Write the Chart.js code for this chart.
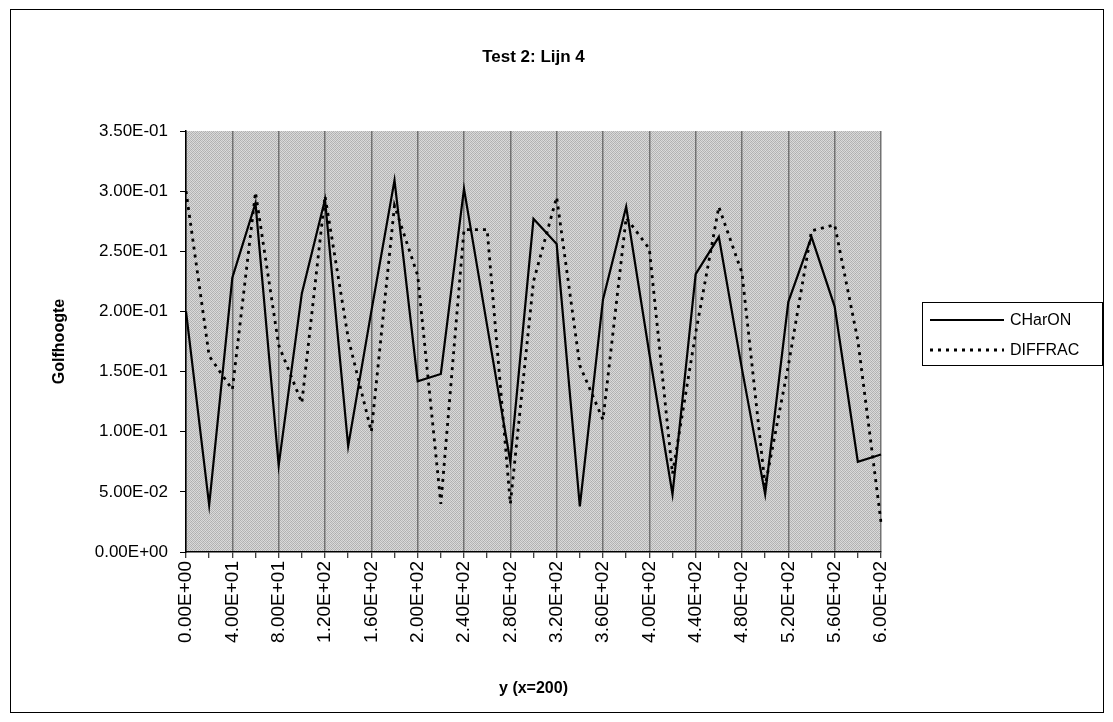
<!DOCTYPE html>
<html>
<head>
<meta charset="utf-8">
<title>Test 2: Lijn 4</title>
<script src="https://cdn.jsdelivr.net/npm/chart.js@4.4.1/dist/chart.umd.min.js"></script>
<style>
  html, body { margin: 0; padding: 0; background: #ffffff; }
  canvas { display: block; }
</style>
</head>
<body>
<canvas id="chart" width="1113" height="722"></canvas>
<script>
// y positions along the line (x = 200)
const yPositions = [0, 20, 40, 60, 80, 100, 120, 140, 160, 180, 200, 220, 240, 260, 280, 300,
                    320, 340, 360, 380, 400, 420, 440, 460, 480, 500, 520, 540, 560, 580, 600];

// wave height, CHarON model
const charonHeights = [0.200, 0.039, 0.228, 0.290, 0.072, 0.215, 0.293, 0.088, 0.200, 0.309,
                       0.142, 0.148, 0.302, 0.188, 0.075, 0.277, 0.256, 0.038, 0.210, 0.287,
                       0.165, 0.048, 0.231, 0.262, 0.152, 0.048, 0.208, 0.262, 0.204, 0.075, 0.081];

// wave height, DIFFRAC model
const diffracHeights = [0.300, 0.163, 0.135, 0.299, 0.172, 0.124, 0.296, 0.178, 0.100, 0.288,
                        0.230, 0.040, 0.268, 0.268, 0.040, 0.225, 0.295, 0.155, 0.110, 0.278,
                        0.252, 0.065, 0.182, 0.287, 0.232, 0.055, 0.155, 0.267, 0.272, 0.176, 0.025];

const seriesNames = ['CHarON', 'DIFFRAC'];
const chartTitle = 'Test 2: Lijn 4';
const xAxisTitle = 'y (x=200)';
const yAxisTitle = 'Golfhoogte';

const FONT = '"Liberation Sans", Arial, sans-serif';

// Excel-style scientific notation: 3.50E-01
function sci(v) {
  if (Math.abs(v) < 1e-12) return '0.00E+00';
  let e = Math.floor(Math.log10(Math.abs(v)));
  let m = v / Math.pow(10, e);
  if (Math.abs(m) >= 9.995) { m /= 10; e += 1; }
  return m.toFixed(2) + 'E' + (e < 0 ? '-' : '+') + String(Math.abs(e)).padStart(2, '0');
}

// grainy grey fill for the plot area
function ditherPattern(ctx) {
  const c = document.createElement('canvas');
  c.width = 4; c.height = 4;
  const g = c.getContext('2d');
  const cells = [
    '#b0b0b0', '#d8d8d8', '#bababa', '#dcdcdc',
    '#dadada', '#b8b8b8', '#d6d6d6', '#adadad',
    '#b9b9b9', '#dddddd', '#b3b3b3', '#d5d5d5',
    '#d7d7d7', '#afafaf', '#dbdbdb', '#b7b7b7'
  ];
  cells.forEach((col, i) => { g.fillStyle = col; g.fillRect(i % 4, Math.floor(i / 4), 1, 1); });
  return ctx.createPattern(c, 'repeat');
}

const decorPlugin = {
  id: 'decor',
  beforeDraw(chart) {
    const { ctx, chartArea: a } = chart;
    ctx.save();
    ctx.fillStyle = '#ffffff';
    ctx.fillRect(0, 0, chart.width, chart.height);
    ctx.fillStyle = ditherPattern(ctx);
    ctx.fillRect(a.left, a.top, a.right - a.left, a.bottom - a.top);
    ctx.restore();
  },
  afterDraw(chart) {
    const { ctx, chartArea: a } = chart;
    ctx.save();
    // outer frame
    ctx.strokeStyle = '#000000';
    ctx.lineWidth = 1;
    ctx.strokeRect(10.5, 9.5, 1093, 703);

    // title
    ctx.fillStyle = '#000000';
    ctx.font = 'bold 17px ' + FONT;
    ctx.textAlign = 'center';
    ctx.textBaseline = 'middle';
    ctx.fillText(chartTitle, (a.left + a.right) / 2, 57);

    // legend
    const bx = 922.5, by = 302.5, bw = 180, bh = 63;
    ctx.fillStyle = '#ffffff';
    ctx.fillRect(bx, by, bw, bh);
    ctx.strokeStyle = '#000000';
    ctx.lineWidth = 1;
    ctx.strokeRect(bx, by, bw, bh);
    const rows = [320, 350];
    chart.data.datasets.forEach((ds, i) => {
      const y = rows[i];
      ctx.strokeStyle = ds.borderColor;
      ctx.lineWidth = ds.borderWidth;
      ctx.setLineDash(ds.borderDash || []);
      ctx.beginPath();
      ctx.moveTo(930, y);
      ctx.lineTo(1004, y);
      ctx.stroke();
      ctx.setLineDash([]);
      ctx.fillStyle = '#000000';
      ctx.font = '16px ' + FONT;
      ctx.textAlign = 'left';
      ctx.textBaseline = 'middle';
      ctx.fillText(ds.label, 1010, y + 1);
    });
    ctx.restore();
  }
};

new Chart(document.getElementById('chart'), {
  type: 'line',
  data: {
    labels: yPositions,
    datasets: [
      {
        label: seriesNames[0],
        data: charonHeights,
        borderColor: '#000000',
        borderWidth: 2.2,
        pointRadius: 0,
        tension: 0,
        fill: false
      },
      {
        label: seriesNames[1],
        data: diffracHeights,
        borderColor: '#000000',
        borderWidth: 2.8,
        borderDash: [3, 5],
        pointRadius: 0,
        tension: 0,
        fill: false
      }
    ]
  },
  options: {
    responsive: false,
    animation: false,
    devicePixelRatio: 1,
    layout: { padding: { left: 10, top: 131, right: 232, bottom: 10 } },
    plugins: {
      legend: { display: false },
      title: { display: false },
      tooltip: { enabled: false }
    },
    scales: {
      x: {
        type: 'category',
        offset: false,
        afterFit(scale) { scale.height = 160; },
        border: { display: true, color: '#000000', width: 1.5 },
        grid: {
          drawOnChartArea: true,
          drawTicks: true,
          tickLength: 6,
          lineWidth: 1.5,
          color: (ctx) => (ctx.index % 2 === 0 ? '#727272' : 'rgba(0,0,0,0)'),
          tickColor: '#000000',
          tickWidth: 1
        },
        ticks: {
          autoSkip: false,
          maxRotation: 90,
          minRotation: 90,
          padding: 3,
          color: '#000000',
          font: { family: FONT, size: 19 },
          callback: (value, index) => (index % 2 === 0 ? sci(yPositions[index]) : '')
        },
        title: {
          display: true,
          text: xAxisTitle,
          color: '#000000',
          font: { family: FONT, size: 16, weight: 'bold' },
          padding: { top: 0, bottom: 14 }
        }
      },
      y: {
        min: 0,
        max: 0.35,
        afterFit(scale) { scale.width = 176; },
        border: { display: true, color: '#000000', width: 1.5 },
        grid: {
          drawOnChartArea: false,
          drawTicks: true,
          tickLength: 6,
          tickColor: '#000000',
          tickWidth: 1
        },
        ticks: {
          stepSize: 0.05,
          padding: 12,
          color: '#000000',
          font: { family: FONT, size: 17 },
          callback: (value) => sci(value)
        },
        title: {
          display: true,
          text: yAxisTitle,
          color: '#000000',
          font: { family: FONT, size: 16, weight: 'bold' },
          padding: { top: 40, bottom: 0 }
        }
      }
    }
  },
  plugins: [decorPlugin]
});
</script>
</body>
</html>
